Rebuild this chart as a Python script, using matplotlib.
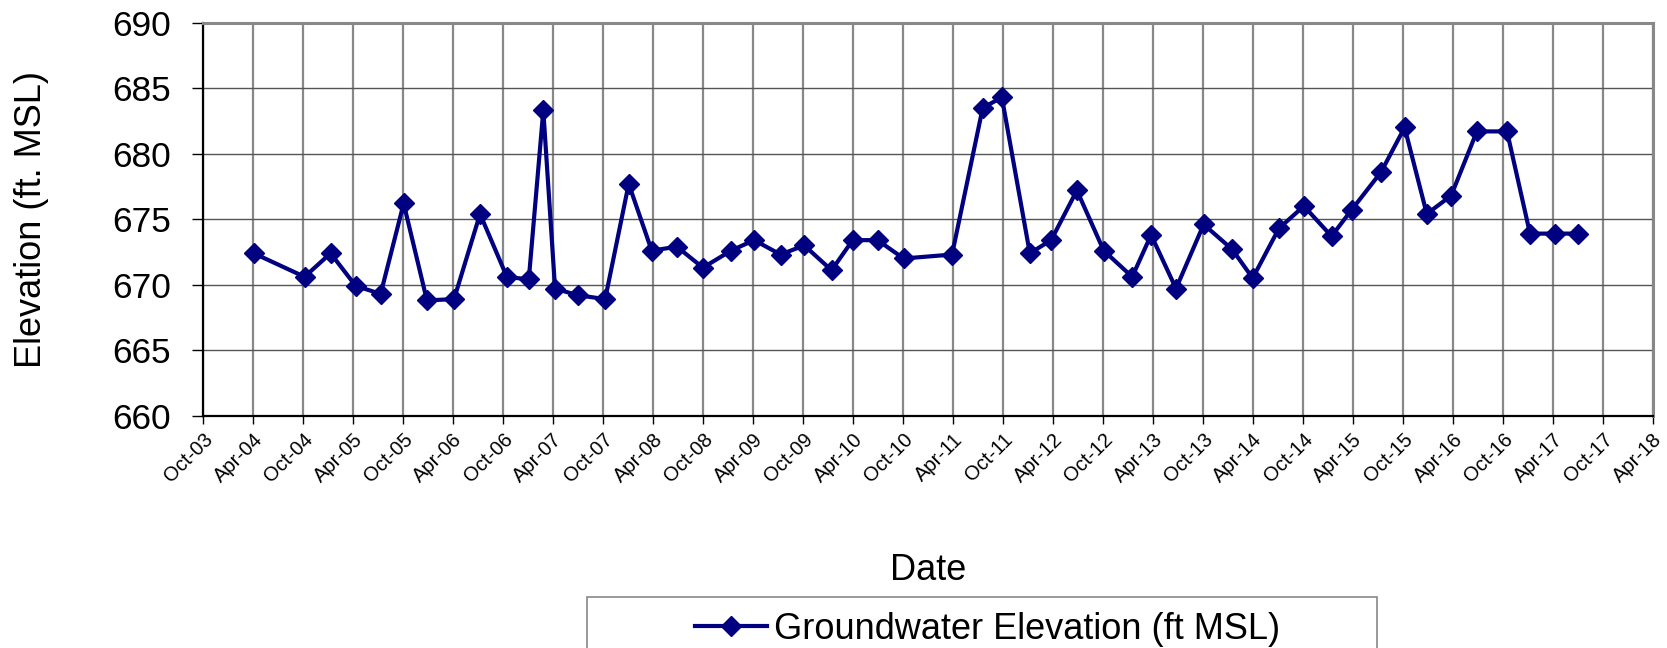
import matplotlib
matplotlib.use('Agg')
import matplotlib.pyplot as plt
import matplotlib.dates as mdates
from matplotlib.patches import Rectangle
import numpy as np
import datetime as dt

plt.rcParams['font.family'] = ['Liberation Sans', 'DejaVu Sans']

# groundwater sampling events and measured elevations (ft MSL)
dates = ['2004-04-04', '2004-10-07', '2005-01-10', '2005-04-12', '2005-07-12',
         '2005-10-04', '2005-12-28', '2006-04-06', '2006-07-10', '2006-10-16',
         '2007-01-04', '2007-02-26', '2007-04-10', '2007-07-01', '2007-10-10',
         '2008-01-04', '2008-03-28', '2008-06-28', '2008-10-01', '2009-01-12',
         '2009-04-06', '2009-07-12', '2009-10-06', '2010-01-14', '2010-04-01',
         '2010-07-01', '2010-10-04', '2011-03-30', '2011-07-20', '2011-09-28',
         '2012-01-08', '2012-03-26', '2012-06-28', '2012-10-04', '2013-01-16',
         '2013-03-26', '2013-06-25', '2013-10-04', '2014-01-16', '2014-04-01',
         '2014-07-06', '2014-10-05', '2015-01-14', '2015-03-28', '2015-07-14',
         '2015-10-08', '2015-12-28', '2016-03-26', '2016-06-28', '2016-10-16',
         '2017-01-08', '2017-04-08', '2017-07-04']
elev = [672.4, 670.6, 672.4, 669.9, 669.3, 676.2, 668.8, 668.9, 675.4, 670.6,
        670.4, 683.3, 669.7, 669.2, 668.9, 677.7, 672.6, 672.9, 671.3, 672.6,
        673.4, 672.3, 673.0, 671.1, 673.4, 673.4, 672.0, 672.3, 683.5, 684.3,
        672.4, 673.4, 677.2, 672.6, 670.6, 673.8, 669.7, 674.6, 672.7, 670.5,
        674.3, 676.0, 673.7, 675.7, 678.6, 682.0, 675.4, 676.8, 681.7, 681.7,
        673.9, 673.9, 673.9]

x = [dt.datetime.strptime(d, '%Y-%m-%d') for d in dates]

fig = plt.figure(figsize=(16.67, 6.48), dpi=100)
ax = fig.add_axes([0.1216, 0.3585, 0.8698, 0.6065])

ax.plot(x, elev, color='#000080', lw=3.0, marker='D', ms=10.5, mew=1,
        mec='#000080', mfc='#000080', label='Groundwater Elevation (ft MSL)',
        zorder=3)

# half-year ticks Oct-03 .. Apr-18
ticks = []
for yr in range(2003, 2019):
    for mo in (4, 10):
        d = dt.datetime(yr, mo, 1)
        if dt.datetime(2003, 10, 1) <= d <= dt.datetime(2018, 4, 1):
            ticks.append(d)
ax.set_xlim(ticks[0], ticks[-1])
ax.set_xticks(ticks)
ax.xaxis.set_major_formatter(mdates.DateFormatter('%b-%y'))
plt.setp(ax.get_xticklabels(), rotation=45, ha='right', rotation_mode='anchor',
         fontsize=14.5)

ax.set_ylim(660, 690)
ax.set_yticks(np.arange(660, 691, 5))
ax.tick_params(axis='y', labelsize=25.5, length=8, width=1, pad=15)
ax.tick_params(axis='x', length=6, width=1, pad=4)

ax.grid(axis='x', color='#888888', lw=1.6)
ax.grid(axis='y', color='#555555', lw=1.0)
ax.set_axisbelow(True)

for s in ('top', 'right'):
    ax.spines[s].set_color('#888888')
    ax.spines[s].set_linewidth(2.2)
for s in ('left', 'bottom'):
    ax.spines[s].set_color('black')
    ax.spines[s].set_linewidth(1.6)

fig.text(0.019, 0.662, 'Elevation (ft. MSL)', rotation=90, ha='center',
         va='center', fontsize=26)
fig.text(0.5565, 0.119, 'Date', ha='center', va='center', fontsize=26)

# legend box runs off the bottom edge
fig.patches.append(Rectangle((587 / 1667, -0.1), 790 / 1667, 0.1 + 51 / 648,
                             transform=fig.transFigure, fill=False,
                             edgecolor='#888888', lw=1.2))
fig.legend(loc='center', bbox_to_anchor=(0.5925, 0.029), frameon=False,
           fontsize=26, handlelength=2.0, handletextpad=0.2)

plt.savefig('out.png')
